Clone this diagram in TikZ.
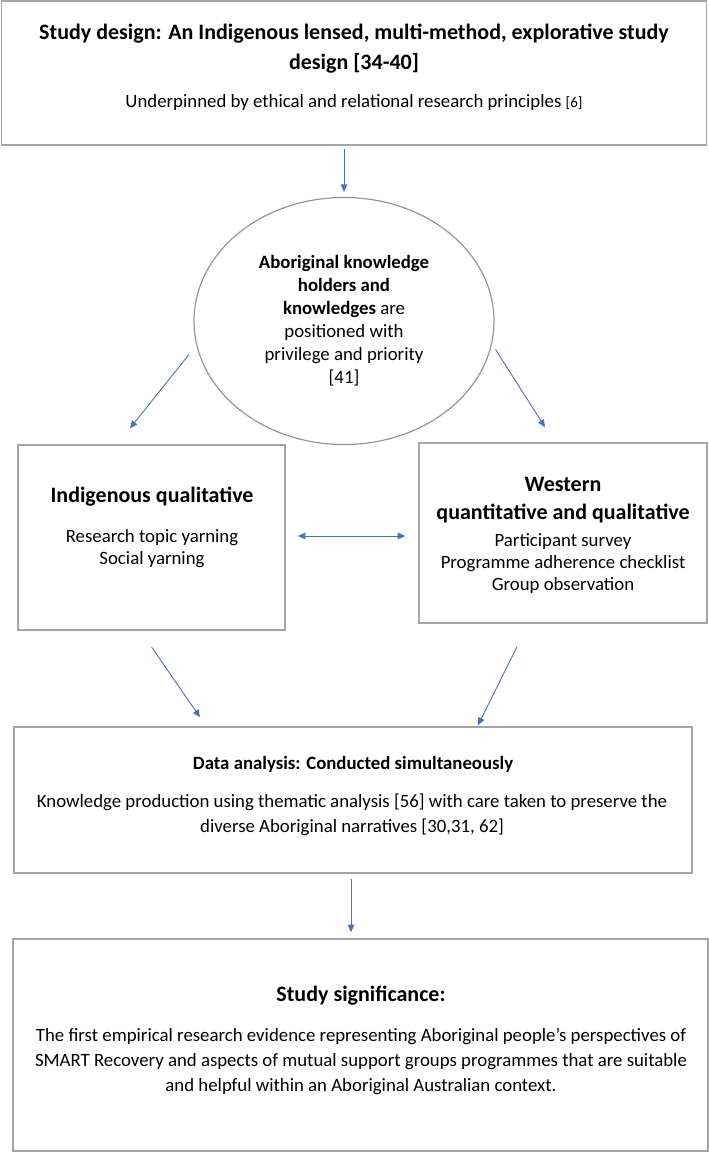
\documentclass[tikz,border=0pt]{standalone}
\usepackage{fontspec}
\setmainfont{Carlito}
\usetikzlibrary{arrows.meta,shapes.geometric}
\definecolor{boxgray}{HTML}{A5A5A5}
\definecolor{ellgray}{HTML}{969696}
\definecolor{arrowblue}{HTML}{4472C4}
\begin{document}
\begin{tikzpicture}[x=1pt,y=1pt,
  box/.style={draw=boxgray, line width=1.6pt, rectangle, inner sep=0pt},
  oval/.style={draw=ellgray, line width=1.2pt, ellipse, inner sep=0pt, align=center,
    font=\fontsize{18.8}{23}\selectfont},
  body/.style={align=center, inner sep=0pt, font=\fontsize{18.8}{22}\selectfont},
  head/.style={align=center, inner sep=0pt, font=\fontsize{22}{28}\selectfont\bfseries},
  arr/.style={draw=arrowblue, line width=0.9pt, -{Triangle[length=7.5pt,width=6.5pt]}},
  darr/.style={draw=arrowblue, line width=0.9pt, {Triangle[length=7.5pt,width=6.5pt]}-{Triangle[length=7.5pt,width=6.5pt]}}
]
\useasboundingbox (0,0) rectangle (709,-1152);
% boxes
\node[box, minimum width=705pt, minimum height=144pt] (top) at (354,-73) {};
\node[oval, minimum width=300pt, minimum height=247pt] (ell) at (344,-321)
  {\textbf{Aboriginal knowledge}\\ \textbf{holders and}\\ \textbf{knowledges} are\\ positioned with\\ privilege and priority\\ {[41]}};
\node[box, minimum width=267pt, minimum height=185pt] (left) at (151.5,-537.5) {};
\node[box, minimum width=288pt, minimum height=180pt] (right) at (563,-533) {};
\node[box, minimum width=678pt, minimum height=146pt] (data) at (353,-800) {};
\node[box, minimum width=695pt, minimum height=212pt] (sig) at (360.5,-1045) {};
% texts
\node[head, font=\fontsize{22}{30}\selectfont\bfseries] (toph) at (354,-49)
  {Study design: An Indigenous lensed, multi-method, explorative study\\ design [34-40]};
\node[body] (tops) at (354,-102)
  {Underpinned by ethical and relational research principles {\fontsize{15}{17}\selectfont[6]}};
\node[head] (lefth) at (152,-497) {Indigenous qualitative};
\node[body] (leftb) at (152,-549) {Research topic yarning\\ Social yarning};
\node[head] (righth) at (563,-500) {Western\\ quantitative and qualitative};
\node[body] (rightb) at (563,-564) {Participant survey\\ Programme adherence checklist\\ Group observation};
\node[head, font=\fontsize{18.8}{22}\selectfont\bfseries] (datah) at (353,-764) {Data analysis: Conducted simultaneously};
\node[body, font=\fontsize{18.8}{25}\selectfont] (datab) at (352,-815)
  {Knowledge production using thematic analysis [56] with care taken to preserve the\\ diverse Aboriginal narratives [30,31, 62]};
\node[head] (sigh) at (361,-996) {Study significance:};
\node[body, font=\fontsize{18.8}{25}\selectfont] (sigb) at (361,-1061)
  {The first empirical research evidence representing Aboriginal people’s perspectives of\\
   SMART Recovery and aspects of mutual support groups programmes that are suitable\\
   and helpful within an Aboriginal Australian context.};
% connectors
\draw[arr] ([yshift=-3pt]top.south -| ell.north) -- ([yshift=5pt]ell.north);
\draw[arr] ([xshift=-10pt]ell.193) -- ([xshift=-21.5pt,yshift=16pt]left.north);
\draw[arr] ([xshift=5pt]ell.349.5) -- ([xshift=-18pt,yshift=15pt]right.north);
\draw[darr] ([xshift=12pt,yshift=1.5pt]left.east) -- ([xshift=-13pt,yshift=1.5pt]left.east -| right.west);
\draw[arr] ([yshift=-16pt]left.south) -- ([xshift=-153pt,yshift=9pt]data.north);
\draw[arr] ([xshift=-46pt,yshift=-23pt]right.south) -- ([xshift=125pt,yshift=1pt]data.north);
\draw[arr] ([xshift=-2pt,yshift=-5pt]data.south) -- ([xshift=-2pt,yshift=6pt]data.south |- sig.north);
\end{tikzpicture}
\end{document}
